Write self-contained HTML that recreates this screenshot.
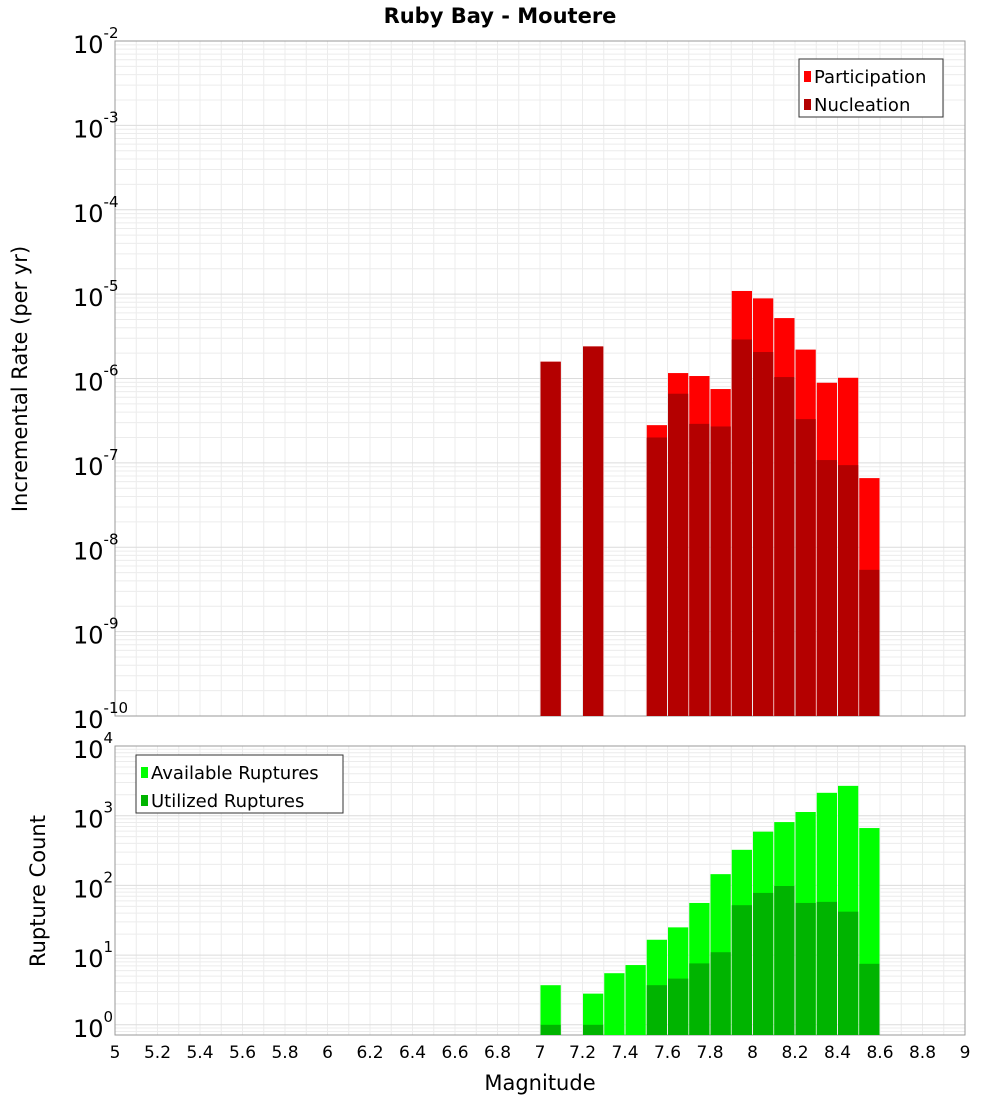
<!DOCTYPE html>
<html><head><meta charset="utf-8"><style>
body{margin:0;background:#fff;font-family:"Liberation Sans","DejaVu Sans",sans-serif}
svg text{font-family:"DejaVu Sans","Liberation Sans",sans-serif}
</style></head><body>
<svg id="c" width="1000" height="1100" xmlns="http://www.w3.org/2000/svg">
<text x="500" y="23" text-anchor="middle" font-size="21" font-weight="bold">Ruby Bay - Moutere</text>
<text transform="translate(27,379) rotate(-90)" text-anchor="middle" font-size="21">Incremental Rate (per yr)</text>
<text transform="translate(45,891) rotate(-90)" text-anchor="middle" font-size="21">Rupture Count</text>
<text x="540" y="1090" text-anchor="middle" font-size="21">Magnitude</text>
</svg>
<script>
const mags=[7.05,7.25,7.35,7.45,7.55,7.65,7.75,7.85,7.95,8.05,8.15,8.25,8.35,8.45,8.55];
const participation=[1.58e-6,2.4e-6,null,null,2.8e-7,1.16e-6,1.07e-6,7.5e-7,1.09e-5,8.9e-6,5.2e-6,2.2e-6,8.9e-7,1.02e-6,6.6e-8];
const nucleation=[1.58e-6,2.4e-6,null,null,2.0e-7,6.6e-7,2.9e-7,2.7e-7,2.9e-6,2.06e-6,1.04e-6,3.3e-7,1.08e-7,9.4e-8,5.4e-9];
const available=[3.7,2.8,5.5,7.2,16.6,25,56,145,324,590,810,1130,2130,2680,665];
const utilized=[1,1,null,null,3.7,4.6,7.6,11,52,78,98,56,58,42,7.5];
const xTicks=[5,5.2,5.4,5.6,5.8,6,6.2,6.4,6.6,6.8,7,7.2,7.4,7.6,7.8,8,8.2,8.4,8.6,8.8,9];
const topExps=[-2,-3,-4,-5,-6,-7,-8,-9,-10];
const botExps=[4,3,2,1,0];

const svg=document.getElementById('c');const NS='http://www.w3.org/2000/svg';
function mk(t,a,p){const e=document.createElementNS(NS,t);for(const k in a)e.setAttribute(k,a[k]);(p||svg).appendChild(e);return e;}
const X0=115,X1=965;
const xs=m=>X0+(m-5)/4*(X1-X0);
const T={top:41,bot:716,lmin:-10,lmax:-2};
const B={top:746,bot:1035,lmax:4,lmin:4-289/69.7};
const ys=(P,v)=>P.top+(P.lmax-Math.log10(v))/(P.lmax-P.lmin)*(P.bot-P.top);

function panel(P,name){
  const g=mk('g',{});
  
  
  for(let m=5;m<=9.001;m+=0.1){const x=xs(m);mk('line',{x1:x,x2:x,y1:P.top,y2:P.bot,stroke:'#ececec','stroke-width':1},g);}
  for(let e=Math.floor(P.lmin);e<=P.lmax;e++){for(let k=1;k<10;k++){const v=k*Math.pow(10,e);const l=Math.log10(v);if(l<P.lmin||l>P.lmax)continue;const y=ys(P,v);mk('line',{x1:X0,x2:X1,y1:y,y2:y,stroke:k==1?'#dcdcdc':'#ececec','stroke-width':1},g);}}
  mk('rect',{x:X0,y:P.top,width:X1-X0,height:P.bot-P.top,fill:'none',stroke:'#999','stroke-width':1},g);
}
panel(T,'rate');panel(B,'count');

const bw=xs(5.1)-xs(5);
function bars(arr,P,col,nm){arr.forEach((v,i)=>{if(v==null)return;const y=ys(P,v);const r=mk('rect',{x:xs(mags[i])-bw/2+0.5,y:y,width:bw-1,height:P.bot-y,fill:col});

});}
bars(participation,T,'#ff0000','participation');
bars(nucleation,T,'#b40000','nucleation');
bars(available,B,'#00ff00','available');
bars(utilized,B,'#00b400','utilized');

xTicks.forEach(m=>{const t=mk('text',{x:xs(m),y:1058,'text-anchor':'middle','font-size':17});t.textContent=String(m);

});
function ylab(P,e,name){const y=ys(P,Math.pow(10,e));const t=mk('text',{x:104,y:y+12,'text-anchor':'end','font-size':24});


const a=mk('tspan',{},t);a.textContent='10';const b=mk('tspan',{dy:-15,'font-size':15},t);b.textContent=String(e);
t.setAttribute('text-anchor','start');t.setAttribute('x',73);}
topExps.forEach(e=>ylab(T,e,'top-y-tick-label'));
botExps.forEach(e=>ylab(B,e,'bottom-y-tick-label'));

function legend(x,y,w,items,name){const g=mk('g',{});


mk('rect',{x:x,y:y,width:w,height:58,fill:'#fff',stroke:'#333'},g);
items.forEach((it,i)=>{mk('rect',{x:x+5,y:y+12+i*28,width:7,height:11,fill:it[1]},g);const t=mk('text',{x:x+15,y:y+24+i*28,'font-size':18},g);t.textContent=it[0];});}
legend(799,59,144,[['Participation','#ff0000'],['Nucleation','#b40000']],'rate-legend');
legend(136,755,207,[['Available Ruptures','#00ff00'],['Utilized Ruptures','#00b400']],'count-legend');
</script>
</body></html>
